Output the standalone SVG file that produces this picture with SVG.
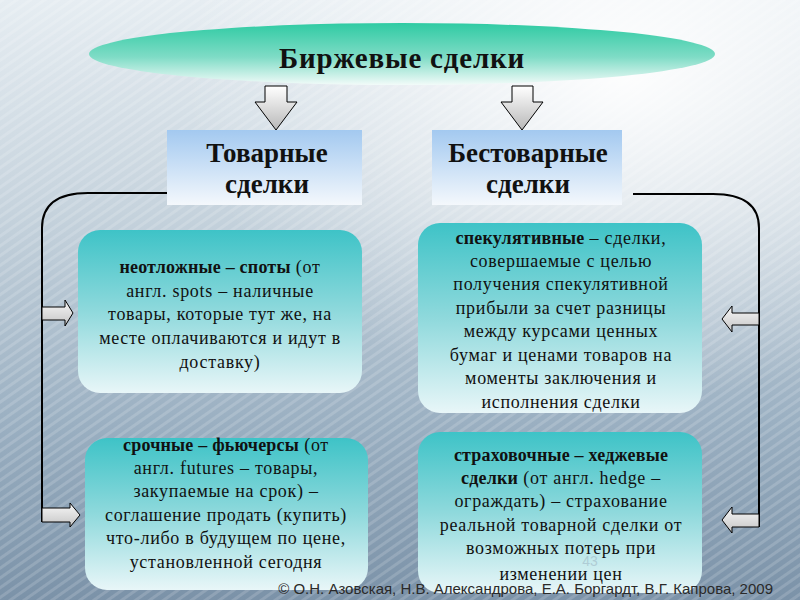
<svg xmlns="http://www.w3.org/2000/svg" width="800" height="600" viewBox="0 0 800 600">
<defs>
<linearGradient id="bg" x1="0" y1="0" x2="0" y2="1">
<stop offset="0" stop-color="#e6edf2"/>
<stop offset="0.35" stop-color="#c6d3dd"/>
<stop offset="0.7" stop-color="#9bb0c2"/>
<stop offset="1" stop-color="#7b92a8"/>
</linearGradient>
<radialGradient id="glow" cx="0.78" cy="0.12" r="0.55">
<stop offset="0" stop-color="#ffffff" stop-opacity="0.95"/>
<stop offset="0.5" stop-color="#ffffff" stop-opacity="0.45"/>
<stop offset="1" stop-color="#ffffff" stop-opacity="0"/>
</radialGradient>
<pattern id="streak" width="8" height="8" patternUnits="userSpaceOnUse" patternTransform="rotate(-35)">
<rect width="8" height="3" fill="#ffffff" opacity="0.25"/>
</pattern>
<linearGradient id="ell" x1="0" y1="0" x2="0" y2="1">
<stop offset="0" stop-color="#2fcba3"/>
<stop offset="0.55" stop-color="#7fdcc6"/>
<stop offset="1" stop-color="#f2fbf9"/>
</linearGradient>
<linearGradient id="hdr" x1="0" y1="0" x2="0" y2="1">
<stop offset="0" stop-color="#a3c9f0"/>
<stop offset="1" stop-color="#f4f8fc"/>
</linearGradient>
<linearGradient id="box" x1="0" y1="0" x2="0" y2="1">
<stop offset="0" stop-color="#3ec3c7"/>
<stop offset="0.5" stop-color="#8fd9dc"/>
<stop offset="1" stop-color="#e8f6f8"/>
</linearGradient>
<linearGradient id="arrV" x1="0" y1="0" x2="0" y2="1">
<stop offset="0" stop-color="#ffffff"/>
<stop offset="1" stop-color="#b8b8b8"/>
</linearGradient>
<linearGradient id="arrH" x1="0" y1="0" x2="0" y2="1">
<stop offset="0" stop-color="#f8f8f8"/>
<stop offset="1" stop-color="#c4c4c4"/>
</linearGradient>
</defs>
<style>
.ttl{font-family:"Liberation Serif","Times New Roman",serif;font-weight:bold;fill:#111;text-anchor:middle}
.txt{font-family:"Liberation Serif","Times New Roman",serif;font-size:18px;letter-spacing:0.7px;fill:#111;text-anchor:middle}
.b{font-weight:bold;letter-spacing:0.2px}
.conn{fill:none;stroke:#000;stroke-width:2}
.ah{fill:url(#arrH);stroke:#000;stroke-width:1}
.av{fill:url(#arrV);stroke:#000;stroke-width:1}
.box{fill:url(#box)}
.hdr{fill:url(#hdr)}
</style>
<rect width="800" height="600" fill="url(#bg)"/>
<rect width="800" height="600" fill="url(#streak)" opacity="0.6"/>
<rect width="800" height="600" fill="url(#glow)"/>

<g id="title">
<ellipse cx="402" cy="54" rx="313" ry="31" fill="url(#ell)"/>
<text class="ttl" x="402" y="68" font-size="29" letter-spacing="0.8">Биржевые сделки</text>
</g>

<g id="connectors">
<polygon class="av" points="265,86 287,86 287,102 297,102 276,130 255,102 265,102"/>
<polygon class="av" points="512,86 533,86 533,102 543,102 522,130 501,102 512,102"/>
<path class="conn" d="M167,193 H88 Q42,193 42,228 V522"/>
<path class="conn" d="M633,194 H713 Q759,194 759,228 V527"/>
<polygon class="ah" points="42,307 65,307 65,300 73,313 65,326 65,320 42,320"/>
<polygon class="ah" points="42,508 70,508 70,503 80,515 70,527 70,522 42,522"/>
<polygon class="ah" points="759,313 732,313 732,306 722,319 732,332 732,325 759,325"/>
<polygon class="ah" points="759,514 732,514 732,507 722,520 732,533 732,527 759,527"/>
</g>

<g id="goods">
<rect class="hdr" x="167" y="130" width="195" height="75"/>
<text class="ttl" font-size="27" x="267" y="162">Товарные</text>
<text class="ttl" font-size="27" x="267" y="193">сделки</text>
</g>

<g id="nongoods">
<rect class="hdr" x="432" y="130" width="190" height="75"/>
<text class="ttl" font-size="27" x="528" y="162">Бестоварные</text>
<text class="ttl" font-size="27" x="528" y="193">сделки</text>
</g>

<g id="spot">
<rect class="box" x="78" y="230" width="284" height="163" rx="22"/>
<text class="txt" x="220"><tspan x="220" y="273"><tspan class="b">неотложные – споты</tspan> (от</tspan><tspan x="220" y="297">англ. spots – наличные</tspan><tspan x="220" y="320">товары, которые тут же, на</tspan><tspan x="220" y="344">месте оплачиваются и идут в</tspan><tspan x="220" y="368">доставку)</tspan></text>
</g>

<g id="speculative">
<rect class="box" x="418" y="223" width="284" height="190" rx="22"/>
<text class="txt" x="561"><tspan x="561" y="244"><tspan class="b">спекулятивные</tspan> – сделки,</tspan><tspan x="561" y="267">совершаемые с целью</tspan><tspan x="561" y="290">получения спекулятивной</tspan><tspan x="561" y="314">прибыли за счет разницы</tspan><tspan x="561" y="337">между курсами ценных</tspan><tspan x="561" y="361">бумаг и ценами товаров на</tspan><tspan x="561" y="384">моменты заключения и</tspan><tspan x="561" y="408">исполнения сделки</tspan></text>
</g>

<g id="futures">
<rect class="box" x="85" y="438" width="283" height="152" rx="22"/>
<text class="txt" x="226"><tspan x="226" y="451"><tspan class="b">срочные – фьючерсы</tspan> (от</tspan><tspan x="226" y="474">англ. futures – товары,</tspan><tspan x="226" y="497">закупаемые на срок) –</tspan><tspan x="226" y="521">соглашение продать (купить)</tspan><tspan x="226" y="544">что-либо в будущем по цене,</tspan><tspan x="226" y="568">установленной сегодня</tspan></text>
</g>

<g id="hedge">
<rect class="box" x="418" y="432" width="284" height="161" rx="22"/>
<text x="590" y="566" font-family="Liberation Sans, Arial, sans-serif" font-size="14" fill="#9fb8c4" fill-opacity="0.6" text-anchor="middle">43</text>
<text class="txt" x="561"><tspan x="561" y="461" class="b">страховочные – хеджевые</tspan><tspan x="561" y="484"><tspan class="b">сделки</tspan> (от англ. hedge –</tspan><tspan x="561" y="507">ограждать) – страхование</tspan><tspan x="561" y="531">реальной товарной сделки от</tspan><tspan x="561" y="554">возможных потерь при</tspan><tspan x="561" y="580">изменении цен</tspan></text>
</g>

<text x="773" y="594" font-family="Liberation Sans, Arial, sans-serif" font-size="15" fill="#2a2a2a" text-anchor="end">© О.Н. Азовская, Н.В. Александрова, Е.А. Боргардт, В.Г. Капрова, 2009</text>
</svg>
